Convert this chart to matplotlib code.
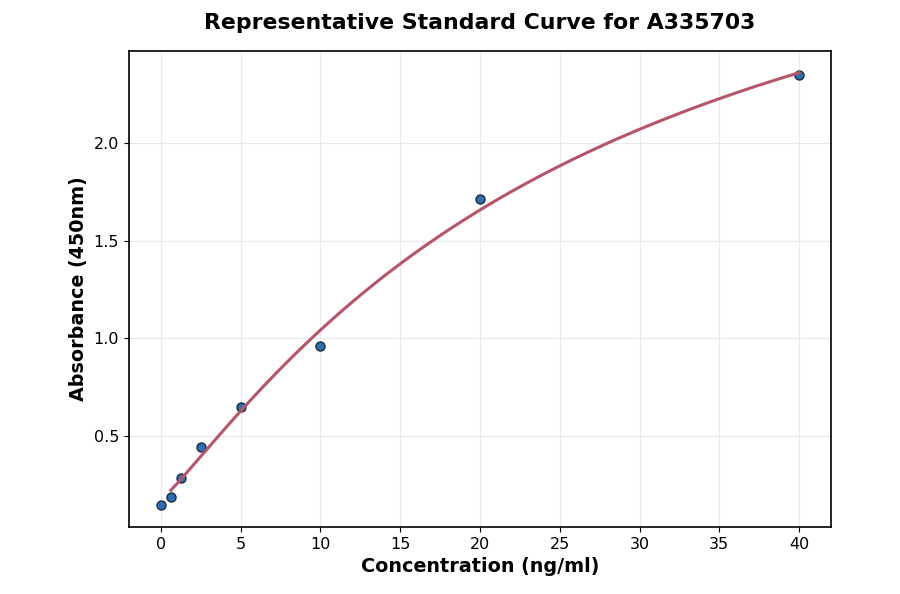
import numpy as np
import matplotlib
matplotlib.use("Agg")
import matplotlib.pyplot as plt

# standard points
conc = [0, 0.625, 1.25, 2.5, 5, 10, 20, 40]
absorb = [0.142, 0.183, 0.280, 0.444, 0.648, 0.959, 1.713, 2.348]

title = "Representative Standard Curve for A335703"
xlabel = "Concentration (ng/ml)"
ylabel = "Absorbance (450nm)"


def four_pl(x, a, b, c, d):
    return d + (a - d) / (1.0 + (x / c) ** b)


def fit_4pl(x, y):
    # simple Levenberg-Marquardt, numerical jacobian
    p = np.array([y.min(), 1.0, np.median(x), y.max() * 1.5])
    lam = 1e-2
    def resid(q):
        return four_pl(x, *q) - y
    r = resid(p)
    for _ in range(500):
        J = np.zeros((len(x), 4))
        for k in range(4):
            dp = np.zeros(4)
            dp[k] = 1e-6 * max(abs(p[k]), 1e-3)
            J[:, k] = (resid(p + dp) - r) / dp[k]
        A = J.T @ J
        g = J.T @ r
        step = np.linalg.solve(A + lam * np.diag(np.diag(A)), -g)
        pn = p + step
        if pn[2] <= 0 or pn[1] <= 0:
            lam *= 10
            continue
        rn = resid(pn)
        if np.sum(rn ** 2) < np.sum(r ** 2):
            p, r = pn, rn
            lam /= 3
        else:
            lam *= 10
    return p


x = np.array(conc, dtype=float)
y = np.array(absorb, dtype=float)
params = fit_4pl(x[1:], y[1:])
xs = np.linspace(x[1], x.max(), 300)

fig = plt.figure(figsize=(9, 5.94), dpi=100)
ax = fig.add_axes([0.1433, 0.1128, 0.78, 0.8012])

ax.scatter(conc, absorb, s=42, color="#2b70b4", edgecolor="#1a2a3a", linewidth=1.0, zorder=3)
ax.plot(xs, four_pl(xs, *params), color="#b85468", linewidth=2.2, zorder=4)

ax.grid(True, color="#e8e8e8", linewidth=0.8)
ax.set_axisbelow(True)
ax.set_xticks([0, 5, 10, 15, 20, 25, 30, 35, 40])
ax.set_yticks([0.5, 1.0, 1.5, 2.0])
ax.tick_params(labelsize=11.5)
for s in ax.spines.values():
    s.set_linewidth(1.2)

ax.set_title(title, fontsize=15.8, fontweight="bold", pad=16)
ax.set_xlabel(xlabel, fontsize=13.8, fontweight="bold")
ax.set_ylabel(ylabel, fontsize=13.8, fontweight="bold")

fig.savefig("out.png", dpi=100)
